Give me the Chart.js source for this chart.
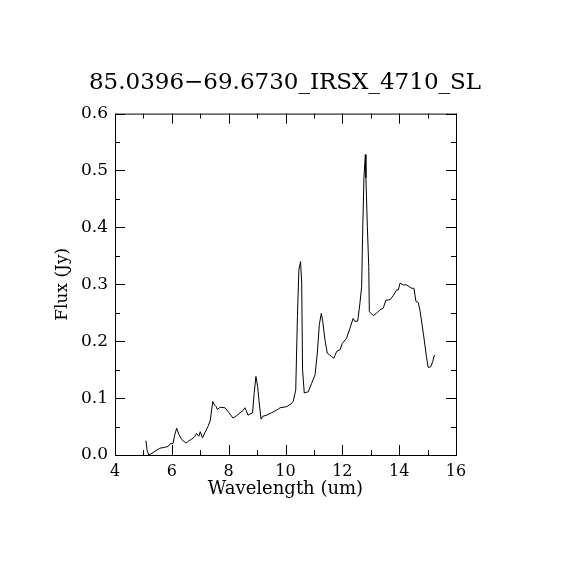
<!DOCTYPE html>
<html>
<head>
<meta charset="utf-8">
<script src="https://cdn.jsdelivr.net/npm/chart.js@4"></script>
<style>
  html, body { margin: 0; padding: 0; background: #fff; }
</style>
</head>
<body>
<canvas id="spec" width="570" height="570"></canvas>
<script>
const wavelength = [5.09, 5.13, 5.19, 5.3, 5.45, 5.58, 5.7, 5.87, 5.95, 6.04, 6.1, 6.17, 6.25, 6.35, 6.5, 6.6, 6.7, 6.8, 6.87,
    6.95, 7.0, 7.08, 7.17, 7.27, 7.35, 7.44, 7.5, 7.56, 7.6, 7.7, 7.87, 8.0, 8.15, 8.25, 8.4, 8.5, 8.57, 8.62, 8.68,
    8.75, 8.84, 8.9, 8.96, 9.02, 9.07, 9.14, 9.2, 9.34, 9.5, 9.69, 9.81, 10.04, 10.2, 10.27, 10.36, 10.42, 10.47, 10.53, 10.57,
    10.6, 10.66, 10.8, 10.92, 11.04, 11.12, 11.19, 11.26, 11.31, 11.39, 11.47, 11.55, 11.62, 11.7, 11.8, 11.92, 12.0, 12.15, 12.27, 12.38,
    12.44, 12.54, 12.62, 12.68, 12.71, 12.76, 12.81, 12.83, 12.88, 12.93, 12.95, 13.09, 13.2, 13.32, 13.44, 13.53, 13.68, 13.79, 13.91, 13.97,
    14.03, 14.15, 14.26, 14.32, 14.44, 14.52, 14.59, 14.67, 14.73, 14.85, 14.96, 15.02, 15.11, 15.18, 15.24];
const flux = [0.025, 0.008, 0.0, 0.003, 0.008, 0.012, 0.013, 0.015, 0.02, 0.02, 0.035, 0.047, 0.036, 0.027, 0.021, 0.025, 0.028, 0.032, 0.038,
    0.033, 0.041, 0.03, 0.04, 0.05, 0.06, 0.094, 0.088, 0.085, 0.08, 0.084, 0.083, 0.075, 0.065, 0.068, 0.074, 0.078, 0.083, 0.078, 0.07,
    0.072, 0.074, 0.11, 0.138, 0.12, 0.094, 0.063, 0.068, 0.07, 0.074, 0.079, 0.083, 0.085, 0.09, 0.094, 0.114, 0.243, 0.325, 0.34, 0.302,
    0.15, 0.109, 0.111, 0.126, 0.141, 0.179, 0.229, 0.249, 0.235, 0.202, 0.179, 0.176, 0.173, 0.17, 0.182, 0.185, 0.196, 0.205, 0.223, 0.24,
    0.235, 0.235, 0.267, 0.296, 0.378, 0.487, 0.528, 0.487, 0.402, 0.331, 0.252, 0.245, 0.249, 0.255, 0.258, 0.272, 0.273, 0.28, 0.29, 0.29,
    0.302, 0.299, 0.299, 0.297, 0.293, 0.293, 0.27, 0.268, 0.255, 0.214, 0.173, 0.154, 0.155, 0.164, 0.176];
const xTicks = [4, 6, 8, 10, 12, 14, 16];
const yTicks = [0.0, 0.1, 0.2, 0.3, 0.4, 0.5, 0.6];

const serif = 'DejaVu Serif';

// box + inward ticks on all four sides, like the IDL plot
const frameTicks = {
    id: 'frameTicks',
    afterDraw(c) {
        const ctx = c.ctx, a = c.chartArea;
        const xs = c.scales.x, ys = c.scales.y;
        ctx.save();
        ctx.strokeStyle = '#000';
        ctx.lineWidth = 1;
        ctx.strokeRect(a.left + 0.5, a.top + 0.5, a.right - a.left, a.bottom - a.top);
        ctx.beginPath();
        for (let v = xTicks[0]; v <= xTicks[xTicks.length - 1]; v += 1) {
            const len = xTicks.includes(v) ? 10 : 5;
            const px = Math.round(xs.getPixelForValue(v)) + 0.5;
            ctx.moveTo(px, a.bottom); ctx.lineTo(px, a.bottom - len);
            ctx.moveTo(px, a.top); ctx.lineTo(px, a.top + len);
        }
        for (let i = 0; i <= 12; i++) {
            const v = i * 0.05;
            const len = i % 2 === 0 ? 10 : 5;
            const py = Math.round(ys.getPixelForValue(v)) + 0.5;
            ctx.moveTo(a.left, py); ctx.lineTo(a.left + len, py);
            ctx.moveTo(a.right, py); ctx.lineTo(a.right - len, py);
        }
        ctx.stroke();
        ctx.restore();
    }
};

const chart = new Chart(document.getElementById('spec'), {
    type: 'scatter',
    data: {
        datasets: [{
            data: wavelength.map((w, i) => ({x: w, y: flux[i]})),
            showLine: true,
            borderColor: '#000',
            borderWidth: 1,
            pointRadius: 0,
            tension: 0
        }]
    },
    options: {
        responsive: false,
        animation: false,
        devicePixelRatio: 1,
        layout: {padding: 0},
        plugins: {
            legend: {display: false},
            tooltip: {enabled: false},
            title: {
                display: true,
                text: '85.0396\u221269.6730_IRSX_4710_SL',
                color: '#000',
                font: {family: serif, size: 23, weight: 'normal'},
                padding: {top: 69, bottom: 17}
            }
        },
        scales: {
            x: {
                type: 'linear',
                min: 4, max: 16,
                afterFit(s) { s.height = 115; },
                afterBuildTicks(s) { s.ticks = xTicks.map(v => ({value: v})); },
                grid: {display: false, drawTicks: false},
                border: {display: false},
                ticks: {color: '#000', padding: 7, font: {family: serif, size: 16}},
                title: {
                    display: true, text: 'Wavelength (um)', color: '#000',
                    font: {family: serif, size: 18}, padding: {top: 0, bottom: 70}
                }
            },
            y: {
                min: 0, max: 0.6,
                afterFit(s) { s.width = 115; },
                afterBuildTicks(s) { s.ticks = yTicks.map(v => ({value: v})); },
                grid: {display: false, drawTicks: false},
                border: {display: false},
                ticks: {color: '#000', padding: 7, font: {family: serif, size: 17}, callback: v => v.toFixed(1)},
                title: {
                    display: true, text: 'Flux (Jy)', color: '#000',
                    font: {family: serif, size: 17}, padding: {top: 52, bottom: 0}
                }
            },
            // empty right-hand axis, only keeps the plot box where it is
            yRight: {
                position: 'right',
                min: 0, max: 0.6,
                afterFit(s) { s.width = 114; },
                grid: {display: false, drawTicks: false},
                border: {display: false},
                ticks: {display: false}
            }
        }
    },
    plugins: [frameTicks]
});
</script>
</body>
</html>
